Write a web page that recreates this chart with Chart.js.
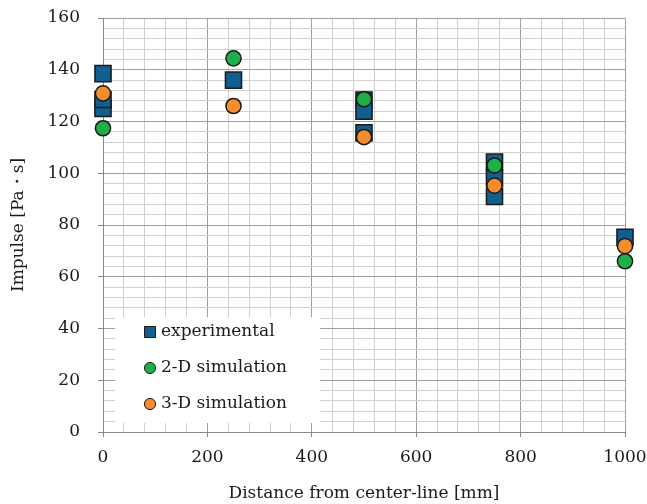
<!DOCTYPE html>
<html>
<head>
<meta charset="utf-8">
<script src="https://cdn.jsdelivr.net/npm/chart.js@4/dist/chart.umd.min.js"></script>
<style>
html,body{margin:0;padding:0;background:#fff;}
#wrap{width:647px;height:504px;position:relative;}
</style>
</head>
<body>
<div id="wrap"><canvas id="c" width="647" height="504"></canvas></div>
<script>
// Data
const expX   = [0, 0, 0, 250, 500, 500, 500, 750, 750, 750, 1000];
const expY   = [125, 128.5, 138.5, 136, 115.6, 128.3, 124, 91, 98, 104.3, 75.2];
const sim2dX = [0, 250, 500, 750, 1000];
const sim2dY = [117.4, 144.4, 128.6, 103, 66];
const sim3dX = [0, 250, 500, 750, 1000];
const sim3dY = [130.9, 126, 114, 95.2, 71.8];
const seriesNames = ['experimental', '2-D simulation', '3-D simulation'];
const xTickLabels = [0, 200, 400, 600, 800, 1000];
const yTickLabels = [0, 20, 40, 60, 80, 100, 120, 140, 160];

const FONT = '"DejaVu Serif", serif';
const BLUE = '#0f5f90', GREEN = '#1fae4a', ORANGE = '#f68c2b', EDGE = '#1a1a1a';
const MAJOR = '#a0a0a0', MINOR = '#d0d0d0', AXIS = '#888888';

const toPts = (xs, ys) => xs.map((x, i) => ({x: x, y: ys[i]}));

const legendPlugin = {
  id: 'boxLegend',
  afterDraw(chart) {
    const ctx = chart.ctx;
    ctx.save();
    ctx.fillStyle = '#ffffff';
    ctx.fillRect(115, 317, 205, 106);
    const items = [
      {name: seriesNames[0], style: 'rect', r: 7.8, color: BLUE},
      {name: seriesNames[1], style: 'circle', r: 5.6, color: GREEN},
      {name: seriesNames[2], style: 'circle', r: 5.6, color: ORANGE}
    ];
    items.forEach((it, i) => {
      const cy = 332 + i * 36;
      ctx.fillStyle = it.color;
      ctx.strokeStyle = EDGE;
      ctx.lineWidth = 1;
      Chart.helpers.drawPoint(ctx, {pointStyle: it.style, radius: it.r, borderWidth: 1, rotation: 0}, 150, cy);
      ctx.fillStyle = '#1a1a1a';
      ctx.font = '17px ' + FONT;
      ctx.textAlign = 'left';
      ctx.textBaseline = 'middle';
      ctx.fillText(it.name, 161, cy);
    });
    ctx.restore();
  }
};

const majorX = v => xTickLabels.includes(v);
const majorY = v => yTickLabels.includes(v);
const noPad = s => { s.paddingTop = 0; s.paddingBottom = 0; s.paddingLeft = 0; s.paddingRight = 0; };

new Chart(document.getElementById('c'), {
  type: 'scatter',
  data: {
    datasets: [
      {label: seriesNames[0], data: toPts(expX, expY), pointStyle: 'rect', pointRadius: 11.4, pointHoverRadius: 11.4,
       backgroundColor: BLUE, borderColor: EDGE, borderWidth: 1.5, order: 3, clip: false},
      {label: seriesNames[1], data: toPts(sim2dX, sim2dY), pointStyle: 'circle', pointRadius: 7.6, pointHoverRadius: 7.6,
       backgroundColor: GREEN, borderColor: EDGE, borderWidth: 1.5, order: 1, clip: false},
      {label: seriesNames[2], data: toPts(sim3dX, sim3dY), pointStyle: 'circle', pointRadius: 7.6, pointHoverRadius: 7.6,
       backgroundColor: ORANGE, borderColor: EDGE, borderWidth: 1.5, order: 2, clip: false}
    ]
  },
  options: {
    responsive: false,
    animation: false,
    devicePixelRatio: 1,
    layout: {padding: {top: 18, right: 22, left: 0, bottom: 0}},
    plugins: {legend: {display: false}, tooltip: {enabled: false}},
    scales: {
      x: {
        type: 'linear', min: 0, max: 1000,
        afterFit(s) { s.height = 72; noPad(s); },
        ticks: {
          stepSize: 40, autoSkip: false, maxRotation: 0, padding: 10,
          color: '#1a1a1a', font: {family: FONT, size: 17},
          callback: v => majorX(v) ? String(v) : ''
        },
        grid: {
          color: c => (c.tick && majorX(c.tick.value)) ? MAJOR : MINOR,
          tickColor: c => (c.tick && majorX(c.tick.value)) ? AXIS : 'rgba(0,0,0,0)',
          tickLength: 5, lineWidth: 1
        },
        border: {display: true, color: AXIS, width: 1},
        title: {display: true, text: 'Distance from center-line [mm]', color: '#1a1a1a',
                font: {family: FONT, size: 17}, padding: {top: 0, bottom: 0}}
      },
      y: {
        type: 'linear', min: 0, max: 160,
        afterFit(s) { s.width = 103; noPad(s); },
        ticks: {
          stepSize: 4, autoSkip: false, padding: 18,
          color: '#1a1a1a', font: {family: FONT, size: 17},
          callback: v => majorY(v) ? String(v) : ''
        },
        grid: {
          color: c => (c.tick && majorY(c.tick.value)) ? MAJOR : MINOR,
          tickColor: c => (c.tick && majorY(c.tick.value)) ? AXIS : 'rgba(0,0,0,0)',
          tickLength: 5, lineWidth: 1
        },
        border: {display: true, color: AXIS, width: 1},
        title: {display: true, text: 'Impulse [Pa・s]', color: '#1a1a1a',
                font: {family: FONT, size: 17}, padding: {top: 8, bottom: 0}}
      }
    }
  },
  plugins: [legendPlugin]
});
</script>
</body>
</html>
